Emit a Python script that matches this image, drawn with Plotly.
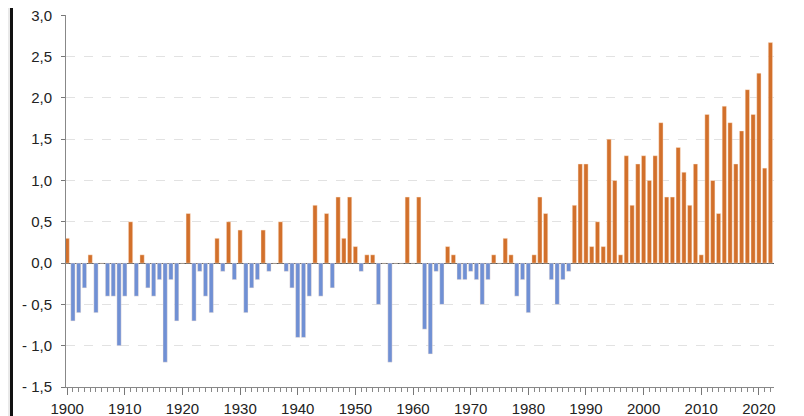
import plotly.graph_objects as go

years = list(range(1900, 2023))
values = [
    0.3, -0.7, -0.6, -0.3, 0.1, -0.6, 0.0, -0.4, -0.4, -1.0,   # 1900-1909
    -0.4, 0.5, -0.4, 0.1, -0.3, -0.4, -0.2, -1.2, -0.2, -0.7,  # 1910-1919
    0.0, 0.6, -0.7, -0.1, -0.4, -0.6, 0.3, -0.1, 0.5, -0.2,    # 1920-1929
    0.4, -0.6, -0.3, -0.2, 0.4, -0.1, 0.0, 0.5, -0.1, -0.3,    # 1930-1939
    -0.9, -0.9, -0.4, 0.7, -0.4, 0.6, -0.3, 0.8, 0.3, 0.8,     # 1940-1949
    0.2, -0.1, 0.1, 0.1, -0.5, 0.0, -1.2, 0.0, 0.0, 0.8,       # 1950-1959
    0.0, 0.8, -0.8, -1.1, -0.1, -0.5, 0.2, 0.1, -0.2, -0.2,    # 1960-1969
    -0.1, -0.2, -0.5, -0.2, 0.1, 0.0, 0.3, 0.1, -0.4, -0.2,    # 1970-1979
    -0.6, 0.1, 0.8, 0.6, -0.2, -0.5, -0.2, -0.1, 0.7, 1.2,     # 1980-1989
    1.2, 0.2, 0.5, 0.2, 1.5, 1.0, 0.1, 1.3, 0.7, 1.2,          # 1990-1999
    1.3, 1.0, 1.3, 1.7, 0.8, 0.8, 1.4, 1.1, 0.7, 1.2,          # 2000-2009
    0.1, 1.8, 1.0, 0.6, 1.9, 1.7, 1.2, 1.6, 2.1, 1.8,          # 2010-2019
    2.3, 1.15, 2.67,                                           # 2020-2022
]

y_tick_vals = [-1.5, -1.0, -0.5, 0.0, 0.5, 1.0, 1.5, 2.0, 2.5, 3.0]
y_tick_text = ["- 1,5", "- 1,0", "- 0,5", "0,0", "0,5", "1,0", "1,5", "2,0", "2,5", "3,0"]
x_tick_vals = [1900, 1910, 1920, 1930, 1940, 1950, 1960, 1970, 1980, 1990, 2000, 2010, 2020]

POS = "#d2702b"
NEG = "#7090d4"
colors = [POS if v > 0 else NEG for v in values]

fig = go.Figure(
    go.Bar(
        x=years,
        y=values,
        width=0.74,
        marker=dict(color=colors, line=dict(width=0.6, color="rgba(255,235,220,0.7)")),
        hoverinfo="x+y",
    )
)

# The page body has an 8px default margin; the figure is sized to fill the
# remaining window area exactly.
OFF = 8
W, H = 804 - OFF, 416 - OFF
ML, MR, MT, MB = 66 - OFF, 30, 15 - OFF, 29

fig.update_layout(
    template="none",
    width=W,
    height=H,
    autosize=False,
    margin=dict(l=ML, r=MR, t=MT, b=MB, pad=0, autoexpand=False),
    paper_bgcolor="white",
    plot_bgcolor="white",
    showlegend=False,
    bargap=0.25,
    font=dict(family="Liberation Sans, Arial, sans-serif", size=15, color="#222222"),
    xaxis=dict(
        automargin=False,
        range=[1899.8, 2022.62],
        tickmode="array",
        tickvals=x_tick_vals,
        ticktext=[str(v) for v in x_tick_vals],
        ticks="outside",
        ticklen=7,
        tickwidth=1,
        tickcolor="#777777",
        showline=True,
        linecolor="#888888",
        linewidth=1,
        showgrid=False,
        zeroline=False,
        minor=dict(dtick=1, tick0=1900, ticks="outside", ticklen=4, tickwidth=1, tickcolor="#888888", showgrid=False),
        tickfont=dict(size=15, color="#222222"),
        ticklabelstandoff=1,
        ticklabeloverflow="allow",
        fixedrange=True,
    ),
    yaxis=dict(
        automargin=False,
        range=[-1.5, 3.004],
        tickmode="array",
        tickvals=y_tick_vals,
        ticktext=y_tick_text,
        ticks="outside",
        ticklen=4,
        tickwidth=1,
        tickcolor="#777777",
        showline=True,
        linecolor="#888888",
        linewidth=1,
        showgrid=True,
        gridcolor="#e2e2e2",
        griddash="dash",
        gridwidth=1,
        zeroline=True,
        zerolinecolor="#555555",
        zerolinewidth=1,
        tickfont=dict(size=15, color="#222222"),
        ticklabelstandoff=6,
        ticklabeloverflow="allow",
        fixedrange=True,
    ),
)

# left-edge page decoration (grey strip + black rule)
pw = W - ML - MR
def px_to_paper(px):
    return (px - ML) / pw

fig.add_shape(type="rect", xref="paper", yref="paper",
              x0=px_to_paper(-OFF), x1=px_to_paper(10 - OFF), y0=-0.2, y1=1.2,
              fillcolor="#e9e9e9", line=dict(width=0), layer="below")
fig.add_shape(type="rect", xref="paper", yref="paper",
              x0=px_to_paper(10 - OFF), x1=px_to_paper(13 - OFF), y0=-0.2, y1=1.2,
              fillcolor="#111111", line=dict(width=0), layer="above")

fig.write_html("out.html")
